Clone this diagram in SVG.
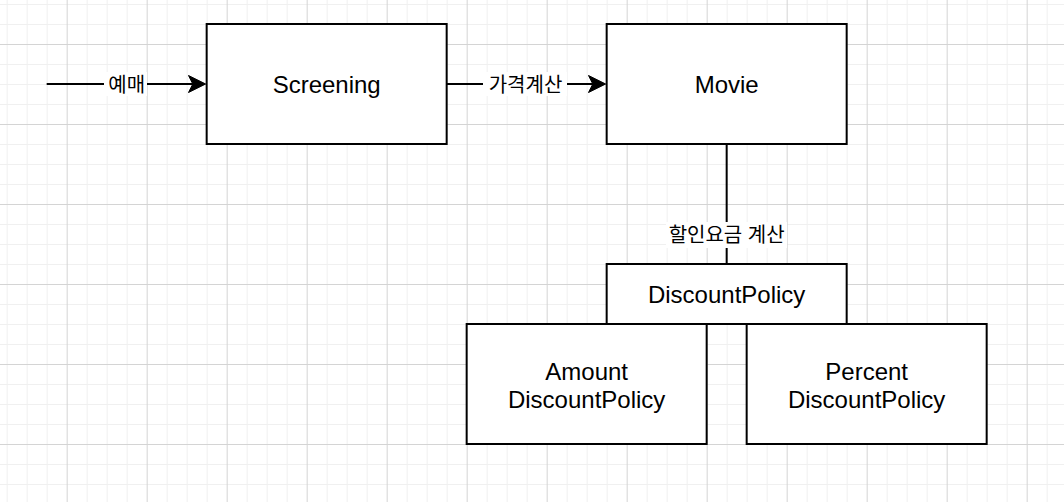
<svg xmlns="http://www.w3.org/2000/svg" width="1064" height="502" viewBox="0 0 1064 502">
<style>
.box{fill:#fff;stroke:#000;stroke-width:2}
.lbl{font-family:"Liberation Sans",Arial,sans-serif;font-size:24px;fill:#000;text-anchor:middle}
.edge{stroke:#000;stroke-width:2;fill:none}
.head{fill:#000;stroke:#000;stroke-width:1}
.elbl{font-family:"Liberation Sans","Noto Sans CJK KR",sans-serif;font-size:20px;fill:#000;text-anchor:middle}
.lbg{fill:#fff}
</style>
<defs>
<pattern id="grid" patternUnits="userSpaceOnUse" x="66.667" y="44" width="80" height="80">
<path d="M20.5,0V80M40.5,0V80M60.5,0V80M0,20.5H80M0,40.5H80M0,60.5H80" stroke="#f0f0f0" stroke-width="1" fill="none"/>
<path d="M0.5,0V80M0,0.5H80" stroke="#d4d4d4" stroke-width="1" fill="none"/>
</pattern>
</defs>
<rect width="1064" height="502" fill="#fff"/>
<rect width="1064" height="502" fill="url(#grid)"/>
<g id="connectors">
<g id="e-yemae">
<line class="edge" x1="46.67" y1="84" x2="194" y2="84"/>
<path class="head" d="M205.67,84 L188.5,75.5 L192.8,84 L188.5,92.5 Z"/>
<rect class="lbg" x="104" y="72" width="43" height="24"/>
<text class="elbl" x="126.67" y="91.5">예매</text>
</g>
<g id="e-price">
<line class="edge" x1="446.67" y1="84" x2="594" y2="84"/>
<path class="head" d="M605.67,84 L588.5,75.5 L592.8,84 L588.5,92.5 Z"/>
<rect class="lbg" x="483" y="72" width="84" height="24"/>
<text class="elbl" x="525.5" y="91.5">가격계산</text>
</g>
<g id="e-discount">
<line class="edge" x1="726.67" y1="144" x2="726.67" y2="264"/>
<rect class="lbg" x="666" y="222" width="121" height="26"/>
<text class="elbl" x="726.67" y="241.5">할인요금 계산</text>
</g>
</g>
<g id="screening">
<rect class="box" x="206.67" y="24" width="240" height="120"/>
<text class="lbl" x="326.67" y="92.5">Screening</text>
</g>
<g id="movie">
<rect class="box" x="606.67" y="24" width="240" height="120"/>
<text class="lbl" x="726.67" y="92.5">Movie</text>
</g>
<g id="discountpolicy">
<rect class="box" x="606.67" y="264" width="240" height="60"/>
<text class="lbl" x="726.67" y="303">DiscountPolicy</text>
</g>
<g id="amount">
<rect class="box" x="466.67" y="324" width="240" height="120"/>
<text class="lbl" x="586.67" y="380">Amount</text>
<text class="lbl" x="586.67" y="407.5">DiscountPolicy</text>
</g>
<g id="percent">
<rect class="box" x="746.67" y="324" width="240" height="120"/>
<text class="lbl" x="866.67" y="380">Percent</text>
<text class="lbl" x="866.67" y="407.5">DiscountPolicy</text>
</g>
</svg>
